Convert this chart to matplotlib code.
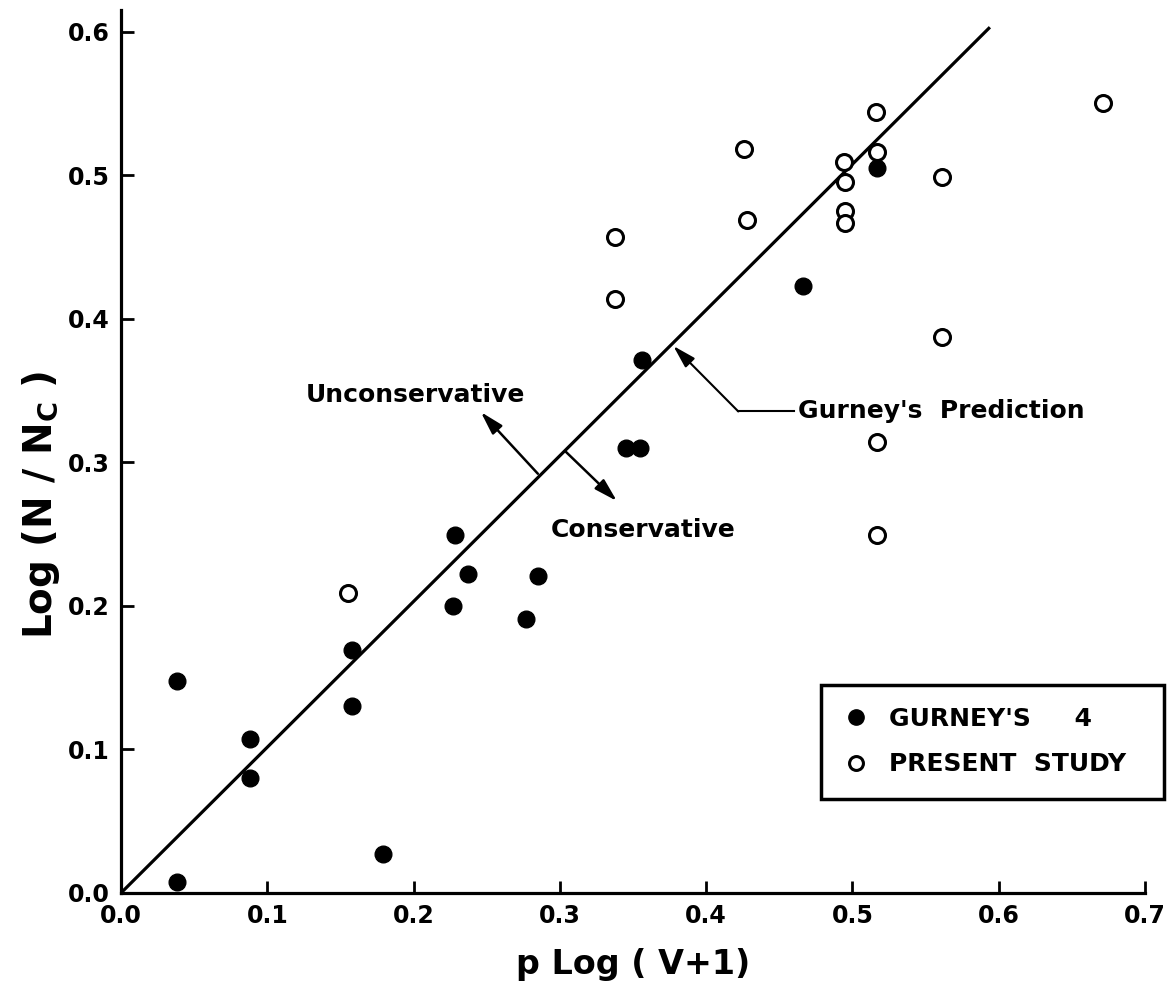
import matplotlib
matplotlib.use("Agg")
import matplotlib.pyplot as plt
from matplotlib.lines import Line2D

# Gurney's data (filled circles)
gurney_x = [0.038, 0.038, 0.088, 0.088, 0.158, 0.158, 0.179, 0.228, 0.227,
            0.237, 0.285, 0.277, 0.345, 0.355, 0.356, 0.466, 0.517]
gurney_y = [0.008, 0.148, 0.107, 0.080, 0.169, 0.130, 0.027, 0.249, 0.200,
            0.222, 0.221, 0.191, 0.310, 0.310, 0.371, 0.423, 0.505]

# Present study (open circles)
present_x = [0.155, 0.338, 0.338, 0.426, 0.428, 0.494, 0.495, 0.495, 0.495,
             0.516, 0.517, 0.561, 0.561, 0.517, 0.517, 0.671]
present_y = [0.209, 0.457, 0.414, 0.518, 0.469, 0.509, 0.495, 0.475, 0.467,
             0.544, 0.516, 0.499, 0.387, 0.314, 0.249, 0.550]

# Gurney's prediction line
pred_x = [0.0, 0.594]
pred_y = [0.0, 0.603]

x_ticks = [0.0, 0.1, 0.2, 0.3, 0.4, 0.5, 0.6, 0.7]
y_ticks = [0.0, 0.1, 0.2, 0.3, 0.4, 0.5, 0.6]

plt.rcParams["font.family"] = ["DejaVu Sans"]
plt.rcParams["font.weight"] = "bold"

fig = plt.figure(figsize=(11.7, 10.01), dpi=100)
ax = fig.add_axes([0.1034, 0.1079, 0.8752, 0.8821])

ax.plot(pred_x, pred_y, color="black", lw=2.3, solid_capstyle="butt", zorder=2)

ax.plot(gurney_x, gurney_y, linestyle="none", marker="o", ms=12,
        mfc="black", mec="black", mew=1, zorder=3)
ax.plot(present_x, present_y, linestyle="none", marker="o", ms=11.5,
        mfc="white", mec="black", mew=2.2, zorder=3)

ax.set_xlim(0, 0.7)
ax.set_ylim(0, 0.615)
ax.set_xticks(x_ticks)
ax.set_yticks(y_ticks)
ax.set_xticklabels([f"{v:.1f}" for v in x_ticks])
ax.set_yticklabels([f"{v:.1f}" for v in y_ticks])
ax.tick_params(direction="in", length=9, width=2, labelsize=17, pad=8)
for lab in ax.get_xticklabels() + ax.get_yticklabels():
    lab.set_fontweight("bold")

for side in ("top", "right"):
    ax.spines[side].set_visible(False)
for side in ("left", "bottom"):
    ax.spines[side].set_linewidth(2.3)

ax.set_xlabel("p Log ( V+1)", fontsize=24, fontweight="bold", labelpad=14)
ax.set_ylabel(r"Log (N / N$_{\mathregular{C}}$ )", fontsize=28,
              fontweight="bold")
ax.yaxis.set_label_coords(-0.058, 0.44)

arrow_style = "-|>,head_length=0.7,head_width=0.2"

# Unconservative / Conservative arrows
ax.annotate("", xy=(0.246, 0.335), xytext=(0.285, 0.292),
            arrowprops=dict(arrowstyle=arrow_style, lw=1.8, color="black",
                            shrinkA=0, shrinkB=0, mutation_scale=20))
ax.annotate("", xy=(0.339, 0.273), xytext=(0.3036, 0.3078),
            arrowprops=dict(arrowstyle=arrow_style, lw=1.8, color="black",
                            shrinkA=0, shrinkB=0, mutation_scale=20))
ax.text(0.126, 0.3466, "Unconservative", fontsize=18, fontweight="bold",
        ha="left", va="center")
ax.text(0.294, 0.253, "Conservative", fontsize=18, fontweight="bold",
        ha="left", va="center")

# Gurney's prediction label with leader
ax.plot([0.46, 0.422], [0.3354, 0.3354], color="black", lw=1.5)
ax.annotate("", xy=(0.3776, 0.381), xytext=(0.422, 0.3354),
            arrowprops=dict(arrowstyle=arrow_style, lw=1.5, color="black",
                            shrinkA=0, shrinkB=0, mutation_scale=20))
ax.text(0.4628, 0.3354, "Gurney's  Prediction", fontsize=18, fontweight="bold",
        ha="left", va="center")

handles = [
    Line2D([], [], linestyle="none", marker="o", ms=11, mfc="black",
           mec="black"),
    Line2D([], [], linestyle="none", marker="o", ms=10, mfc="white",
           mec="black", mew=2.2),
]
leg = ax.legend(handles, ["GURNEY'S     4", "PRESENT  STUDY"],
                loc="upper left", bbox_to_anchor=(0.684, 0.236, 0.335, 0.0),
                mode="expand", frameon=True, fancybox=False, framealpha=1,
                edgecolor="black", fontsize=18, borderpad=0.9,
                labelspacing=0.85, handlelength=1.0, handletextpad=0.8,
                borderaxespad=0)
leg.get_frame().set_linewidth(2.5)
for t in leg.get_texts():
    t.set_fontweight("bold")

fig.savefig("out.png", dpi=100)
